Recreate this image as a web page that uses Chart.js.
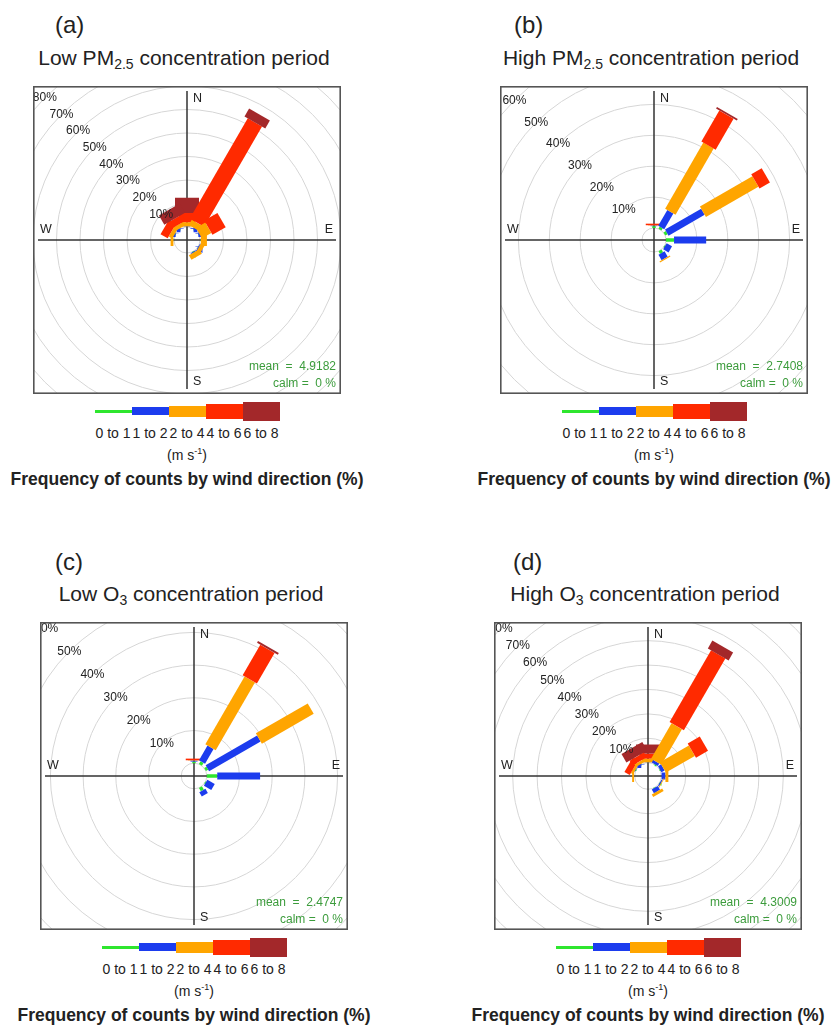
<!DOCTYPE html>
<html>
<head>
<meta charset="utf-8">
<script src="https://cdn.jsdelivr.net/npm/chart.js@4.4.0/dist/chart.umd.min.js"></script>
<style>
  body { margin: 0; background: #fff; font-family: "Liberation Sans", Arial, sans-serif; color: #222; }
  #page { position: relative; width: 833px; height: 1026px; overflow: hidden; }
  .tag { position: absolute; font-size: 24px; line-height: 1; }
  .ttl { position: absolute; font-size: 21px; line-height: 1; white-space: nowrap; transform: translateX(-50%); }
  .ttl sub { font-size: 14px; vertical-align: -4px; line-height: 0; }
  canvas { position: absolute; }
  .sw { position: absolute; }
  .lbl { position: absolute; font-size: 14px; line-height: 1; white-space: nowrap; transform: translateX(-50%); }
  .units { position: absolute; font-size: 14px; line-height: 1; white-space: nowrap; transform: translateX(-50%); }
  .units sup { font-size: 9px; vertical-align: 6px; line-height: 0; }
  .freq { position: absolute; font-size: 17.5px; line-height: 1; font-weight: bold; white-space: nowrap; transform: translateX(-50%); }
</style>
</head>
<body>
<div id="page"></div>
<script>
// wind directions (degrees) and speed bins (m s-1)
const directions = [0, 30, 60, 90, 120, 150, 180, 210, 240, 270, 300, 330];
const speedBins = ['0 to 1', '1 to 2', '2 to 4', '4 to 6', '6 to 8'];
const binColours = ['#2ee62e', '#1c3cee', '#ffa500', '#ff2a00', '#a3282a'];
const paddleWidths = [3.5, 7, 12, 16.5, 24];
const legendHeights = [3, 8, 11, 15, 19];

// (a) low PM2.5 - frequency (%) per direction for each speed bin
const lowPmBin1 = [0.05, 0.05, 0.05, 0.05, 0.05, 0.1, 0, 0, 0, 0.05, 0.05, 0.05];
const lowPmBin2 = [0.2, 0.3, 0.3, 0.3, 0.3, 0.4, 0, 0, 0, 0.2, 0.2, 0.2];
const lowPmBin3 = [1.8, 2.6, 4.6, 2.6, 1.8, 2.2, 0, 0, 0, 1.2, 1.7, 1.7];
const lowPmBin4 = [3.9, 49.3, 6.5, 0, 0, 0, 0, 0, 0, 0, 3.5, 3.0];
const lowPmBin5 = [6.5, 3.9, 0, 0, 0, 0, 0, 0, 0, 0, 0, 4.5];

// (b) high PM2.5
const highPmBin1 = [0.6, 0.8, 0.9, 2.6, 0.2, 1.0, 0, 0, 0, 0, 0, 0];
const highPmBin2 = [0.2, 5.9, 13.5, 10.4, 2.0, 2.0, 0, 0, 0, 0, 0, 0];
const highPmBin3 = [0.1, 24.7, 19.6, 0, 0, 0.4, 0, 0, 0, 0, 0, 0];
const highPmBin4 = [0.5, 11.6, 3.9, 0, 0, 0, 0, 0, 0, 0, 0, 0];
const highPmBin5 = [0, 0.6, 0, 0, 0, 0, 0, 0, 0, 0, 0, 0];

// (c) low O3
const lowO3Bin1 = [0.5, 1.0, 0.8, 3.2, 0.2, 1.2, 0, 0, 0, 0, 0, 0];
const lowO3Bin2 = [0.3, 5.2, 18.2, 13.1, 2.6, 1.5, 0, 0, 0, 0, 0, 0];
const lowO3Bin3 = [0.1, 24.0, 18.3, 0, 0, 0, 0, 0, 0, 0, 0, 0];
const lowO3Bin4 = [0.5, 10.8, 0, 0, 0, 0, 0, 0, 0, 0, 0, 0];
const lowO3Bin5 = [0, 0.6, 0, 0, 0, 0, 0, 0, 0, 0, 0, 0];

// (d) high O3
const highO3Bin1 = [0.05, 0.1, 0.1, 0.1, 0.1, 0.1, 0, 0, 0, 0.05, 0.05, 0.05];
const highO3Bin2 = [0.1, 1.2, 1.5, 1.6, 0.5, 1.8, 0, 0, 0, 0.2, 0.2, 0.2];
const highO3Bin3 = [1.5, 16.8, 13.7, 1.2, 0.3, 1.2, 0, 0, 0, 0.8, 1.0, 1.2];
const highO3Bin4 = [2.1, 34.0, 5.7, 0, 0, 0, 0, 0, 0, 0, 2.5, 2.3];
const highO3Bin5 = [3.7, 3.7, 0, 0, 0, 0, 0, 0, 0, 0, 0, 4.0];

const ringsTo80 = [10, 20, 30, 40, 50, 60, 70, 80];
const ringsTo60 = [10, 20, 30, 40, 50, 60];
const meanSpeeds = ['4.9182', '2.7408', '2.4747', '4.3009'];
const calmPcts = ['0', '0', '0', '0'];

const panels = [
  { tag: '(a)', title: 'Low PM<sub>2.5</sub> concentration period', left: 33, top: 86, tagX: 55, tagY: 13, titleY: 47,
    pxPerPct: 2.35, holePx: 13, rings: ringsTo80, bins: [lowPmBin1, lowPmBin2, lowPmBin3, lowPmBin4, lowPmBin5] },
  { tag: '(b)', title: 'High PM<sub>2.5</sub> concentration period', left: 500, top: 86, tagX: 514, tagY: 13, titleY: 47,
    pxPerPct: 3.09, holePx: 12, rings: ringsTo60, bins: [highPmBin1, highPmBin2, highPmBin3, highPmBin4, highPmBin5] },
  { tag: '(c)', title: 'Low O<sub>3</sub> concentration period', left: 40, top: 622, tagX: 55, tagY: 550, titleY: 583,
    pxPerPct: 3.27, holePx: 12.8, rings: ringsTo60, bins: [lowO3Bin1, lowO3Bin2, lowO3Bin3, lowO3Bin4, lowO3Bin5] },
  { tag: '(d)', title: 'High O<sub>3</sub> concentration period', left: 494, top: 622, tagX: 513, tagY: 550, titleY: 583,
    pxPerPct: 2.44, holePx: 13.3, rings: ringsTo80, bins: [highO3Bin1, highO3Bin2, highO3Bin3, highO3Bin4, highO3Bin5] }
];

const BOX = 308;

// rings, axes, labels and frame of a wind rose
const rosePlugin = {
  id: 'rose',
  beforeDatasetsDraw(chart) {
    const { ctx, chartArea: a, scales: { x } } = chart;
    const o = chart.options.plugins.rose;
    const cx = x.getPixelForValue(0), cy = chart.scales.y.getPixelForValue(0);
    const rad = v => x.getPixelForValue(o.hole + v) - cx;
    ctx.save();
    ctx.beginPath(); ctx.rect(a.left, a.top, a.width, a.height); ctx.clip();
    ctx.strokeStyle = '#d6d6d6'; ctx.lineWidth = 1;
    [0, ...o.rings].forEach(v => {
      ctx.beginPath(); ctx.arc(cx, cy, rad(v), 0, Math.PI * 2); ctx.stroke();
    });
    ctx.strokeStyle = '#333'; ctx.lineWidth = 1.5;
    ctx.beginPath();
    ctx.moveTo(cx, a.top + 5); ctx.lineTo(cx, a.bottom - 5);
    ctx.moveTo(a.left + 5, cy); ctx.lineTo(a.right - 5, cy);
    ctx.stroke();
    ctx.restore();
  },
  afterDatasetsDraw(chart) {
    const { ctx, chartArea: a, scales: { x } } = chart;
    const o = chart.options.plugins.rose;
    const cx = x.getPixelForValue(0), cy = chart.scales.y.getPixelForValue(0);
    const rad = v => x.getPixelForValue(o.hole + v) - cx;
    ctx.save();
    ctx.beginPath(); ctx.rect(a.left, a.top, a.width, a.height); ctx.clip();
    ctx.fillStyle = '#222';
    ctx.font = '12px "Liberation Sans", Arial, sans-serif';
    ctx.textAlign = 'center'; ctx.textBaseline = 'middle';
    o.rings.forEach(v => {
      const r = rad(v) * Math.SQRT1_2;
      ctx.fillText(v + '%', cx - r, cy - r);
    });
    ctx.font = '12.5px "Liberation Sans", Arial, sans-serif';
    ctx.textAlign = 'left';
    ctx.fillText('N', cx + 6, a.top + 13);
    ctx.fillText('S', cx + 6, a.bottom - 12);
    ctx.fillText('W', a.left + 7, cy - 10);
    ctx.textAlign = 'right';
    ctx.fillText('E', a.right - 8, cy - 10);
    ctx.fillStyle = '#3c9c3c';
    ctx.font = '12px "Liberation Sans", Arial, sans-serif';
    ctx.fillText('mean  =  ' + o.mean, a.right - 5, a.top + 281);
    ctx.fillText('calm =  ' + o.calm + ' %', a.right - 5, a.top + 298);
    ctx.restore();
    ctx.save();
    ctx.strokeStyle = '#555'; ctx.lineWidth = 1.6;
    ctx.strokeRect(a.left + 0.8, a.top + 0.8, a.width - 1.6, a.height - 1.6);
    ctx.restore();
  }
};

function paddles(p) {
  const hole = p.holePx / p.pxPerPct;
  const sets = [];
  let n = 0;
  directions.forEach((dir, i) => {
    const t = dir * Math.PI / 180;
    let start = 0;
    p.bins.forEach((vals, j) => {
      const end = start + vals[i];
      if (vals[i] > 0) {
        sets.push({
          data: [
            { x: (hole + start) * Math.sin(t), y: (hole + start) * Math.cos(t) },
            { x: (hole + end) * Math.sin(t), y: (hole + end) * Math.cos(t) }
          ],
          showLine: true,
          borderColor: binColours[j],
          backgroundColor: binColours[j],
          borderWidth: paddleWidths[j],
          borderCapStyle: 'butt',
          pointRadius: 0,
          order: -(n++)
        });
      }
      start = end;
    });
  });
  return sets;
}

const page = document.getElementById('page');
function add(cls, html, x, y) {
  const d = document.createElement('div');
  d.className = cls; d.innerHTML = html;
  d.style.left = x + 'px'; d.style.top = y + 'px';
  page.appendChild(d);
  return d;
}

panels.forEach((p, k) => {
  const cxPage = p.left + BOX / 2;
  add('tag', p.tag, p.tagX, p.tagY);
  add('ttl', p.title, cxPage - 3, p.titleY);

  const cv = document.createElement('canvas');
  cv.width = BOX; cv.height = BOX;
  cv.style.left = p.left + 'px'; cv.style.top = p.top + 'px';
  page.appendChild(cv);

  const R = (BOX / 2) / p.pxPerPct;
  new Chart(cv, {
    type: 'scatter',
    data: { datasets: paddles(p) },
    options: {
      responsive: false,
      animation: false,
      events: [],
      layout: { padding: 0 },
      scales: {
        x: { type: 'linear', min: -R, max: R, display: false },
        y: { type: 'linear', min: -R, max: R, display: false }
      },
      plugins: {
        legend: { display: false },
        tooltip: { enabled: false },
        rose: { hole: p.holePx / p.pxPerPct, rings: p.rings, mean: meanSpeeds[k], calm: calmPcts[k] }
      }
    },
    plugins: [rosePlugin]
  });

  // speed legend
  const segW = 37;
  const x0 = cxPage - segW * speedBins.length / 2;
  const yMid = p.top + 325;
  speedBins.forEach((lab, j) => {
    const s = document.createElement('div');
    s.className = 'sw';
    s.style.left = (x0 + j * segW) + 'px';
    s.style.top = (yMid - legendHeights[j] / 2) + 'px';
    s.style.width = segW + 'px';
    s.style.height = legendHeights[j] + 'px';
    s.style.background = binColours[j];
    page.appendChild(s);
    add('lbl', lab, x0 + j * segW + segW / 2, p.top + 340);
  });
  add('units', '(m s<sup>-1</sup>)', cxPage, p.top + 362);
  add('freq', 'Frequency of counts by wind direction (%)', cxPage, p.top + 385);
});
</script>
</body>
</html>
